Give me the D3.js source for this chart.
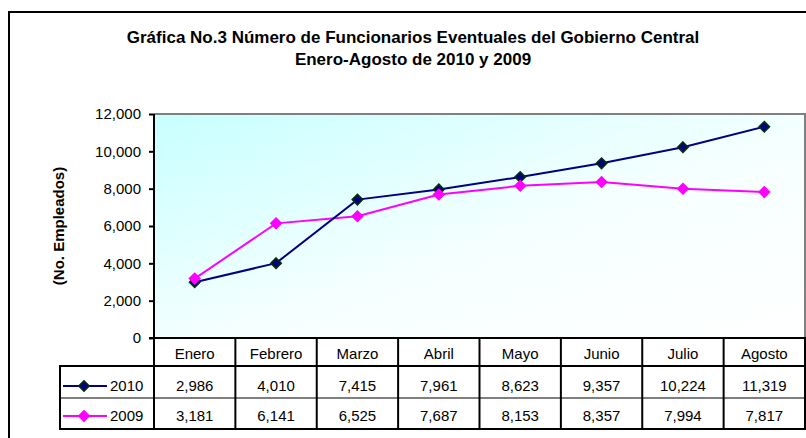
<!DOCTYPE html>
<html>
<head>
<meta charset="utf-8">
<script src="https://cdn.jsdelivr.net/npm/d3@7"></script>
<style>
  body { margin: 0; background: #fff; }
  svg { display: block; font-family: Arial, "Liberation Sans", sans-serif; }
</style>
</head>
<body>
<div id="chart"></div>
<script>
// datos de la grafica
var meses = ["Enero", "Febrero", "Marzo", "Abril", "Mayo", "Junio", "Julio", "Agosto"]
var serie2010 = [2986, 4010, 7415, 7961, 8623, 9357, 10224, 11319]
var serie2009 = [3181, 6141, 6525, 7687, 8153, 8357, 7994, 7817]
var yTicks = [0, 2000, 4000, 6000, 8000, 10000, 12000]

var series = [
    { name: "2010", values: serie2010, line: "#000080", markFill: "#000080", markStroke: "#003300" },
    { name: "2009", values: serie2009, line: "#ff00ff", markFill: "#ff00ff", markStroke: "#ff00ff" }
]

var W = 806, H = 438
var pLeft = 154, pRight = 805, pTop = 114, pBottom = 338
var rowH = [28, 32, 31]
var legendX = 60
var fs = 15

var svg = d3.select('#chart')
    .append('svg')
    .attr('width', W)
    .attr('height', H)

var defs = svg.append('defs')
var grad = defs.append('linearGradient')
    .attr('id', 'fondo')
    .attr('x1', '0').attr('y1', '0')
    .attr('x2', '1').attr('y2', '1')
grad.append('stop').attr('offset', '0%').attr('stop-color', '#c8ffff')
grad.append('stop').attr('offset', '55%').attr('stop-color', '#f6ffff')
grad.append('stop').attr('offset', '100%').attr('stop-color', '#ffffff')

// marco exterior
svg.append('rect')
    .attr('x', 9).attr('y', 12)
    .attr('width', 820).attr('height', 450)
    .attr('fill', '#fff')
    .attr('stroke', '#000')
    .attr('stroke-width', 2)

// titulo
var title = svg.append('text')
    .attr('text-anchor', 'middle')
    .attr('font-weight', 'bold')
    .attr('font-size', 17)
title.append('tspan').attr('x', 413).attr('y', 43)
    .text('Gráfica No.3 Número de Funcionarios Eventuales del Gobierno Central')
title.append('tspan').attr('x', 413).attr('y', 65)
    .text('Enero-Agosto de 2010 y 2009')

var x = d3.scaleBand()
    .domain(meses)
    .range([pLeft, pRight])

var y = d3.scaleLinear()
    .domain([0, 12000])
    .range([pBottom, pTop])

// area del grafico
svg.append('rect')
    .attr('x', pLeft).attr('y', pTop)
    .attr('width', pRight - pLeft).attr('height', pBottom - pTop)
    .attr('fill', 'url(#fondo)')

svg.append('path')
    .attr('d', 'M' + pLeft + ',' + pTop + 'H' + pRight + 'V' + pBottom)
    .attr('fill', 'none')
    .attr('stroke', '#808080')
    .attr('stroke-width', 2)

// eje y
var yAxis = svg.append('g')
    .attr('transform', 'translate(' + pLeft + ',0)')
    .call(d3.axisLeft(y).tickValues(yTicks).tickFormat(d3.format(',')).tickSize(5).tickPadding(8))
yAxis.select('.domain').remove()
yAxis.selectAll('line').attr('stroke', '#000').attr('stroke-width', 2)
yAxis.selectAll('text')
    .attr('font-size', fs)
    .attr('font-family', 'Arial, "Liberation Sans", sans-serif')
    .attr('fill', '#000')

svg.append('text')
    .attr('transform', 'translate(64,' + ((pTop + pBottom) / 2) + ') rotate(-90)')
    .attr('text-anchor', 'middle')
    .attr('font-weight', 'bold')
    .attr('font-size', fs)
    .text('(No. Empleados)')

// lineas
var line = d3.line()
    .x(function(d, i) { return x(meses[i]) + x.bandwidth() / 2 })
    .y(function(d) { return y(d) })

var diamond = d3.symbol().type(d3.symbolDiamond2).size(70)

series.slice().reverse().forEach(function(s) {
    svg.append('path')
        .datum(s.values)
        .attr('d', line)
        .attr('fill', 'none')
        .attr('stroke', s.line)
        .attr('stroke-width', 2)
})
series.forEach(function(s) {
    svg.selectAll(null)
        .data(s.values)
        .enter()
        .append('path')
        .attr('d', diamond)
        .attr('transform', function(d, i) {
            return 'translate(' + (x(meses[i]) + x.bandwidth() / 2) + ',' + y(d) + ')'
        })
        .attr('fill', s.markFill)
        .attr('stroke', s.markStroke)
        .attr('stroke-width', 1.5)
})

// tabla de datos
var y0 = pBottom, y1 = y0 + rowH[0], y2 = y1 + rowH[1], y3 = y2 + rowH[2]
var grid = svg.append('g').attr('stroke', '#000').attr('stroke-width', 2)
grid.append('rect')
    .attr('x', pLeft).attr('y', y0)
    .attr('width', pRight - pLeft).attr('height', y3 - y0)
    .attr('fill', '#fff')
grid.append('rect')
    .attr('x', legendX).attr('y', y1)
    .attr('width', pRight - legendX).attr('height', y3 - y1)
    .attr('fill', 'none')
grid.append('line')
    .attr('x1', legendX).attr('x2', pRight)
    .attr('y1', y2).attr('y2', y2)
    .attr('stroke-width', 1.2)
grid.selectAll('line.col')
    .data(meses.slice(1))
    .enter()
    .append('line')
    .attr('class', 'col')
    .attr('x1', function(d) { return x(d) })
    .attr('x2', function(d) { return x(d) })
    .attr('y1', y0).attr('y2', y3)

// linea del cero y eje vertical
svg.append('line')
    .attr('x1', pLeft - 5).attr('x2', pRight)
    .attr('y1', pBottom).attr('y2', pBottom)
    .attr('stroke', '#000').attr('stroke-width', 2)
svg.append('line')
    .attr('x1', pLeft).attr('x2', pLeft)
    .attr('y1', pTop).attr('y2', y3)
    .attr('stroke', '#000').attr('stroke-width', 2)

svg.selectAll('text.mes')
    .data(meses)
    .enter()
    .append('text')
    .attr('class', 'mes')
    .attr('x', function(d) { return x(d) + x.bandwidth() / 2 })
    .attr('y', 359)
    .attr('text-anchor', 'middle')
    .attr('font-size', fs)
    .text(function(d) { return d })

var fmt = d3.format(',')
var rowsY = [391, 421]
series.forEach(function(s, k) {
    svg.selectAll(null)
        .data(s.values)
        .enter()
        .append('text')
        .attr('x', function(d, i) { return x(meses[i]) + x.bandwidth() / 2 })
        .attr('y', rowsY[k])
        .attr('text-anchor', 'middle')
        .attr('font-size', fs)
        .text(function(d) { return fmt(d) })

    // clave de leyenda
    var cy = rowsY[k] - 5
    svg.append('line')
        .attr('x1', 63).attr('x2', 107)
        .attr('y1', cy).attr('y2', cy)
        .attr('stroke', s.line).attr('stroke-width', 2)
    svg.append('path')
        .attr('d', diamond)
        .attr('transform', 'translate(84,' + cy + ')')
        .attr('fill', s.markFill)
        .attr('stroke', s.markStroke)
        .attr('stroke-width', 1.5)
    svg.append('text')
        .attr('x', 110)
        .attr('y', rowsY[k])
        .attr('font-size', fs)
        .text(s.name)
})
</script>
</body>
</html>
